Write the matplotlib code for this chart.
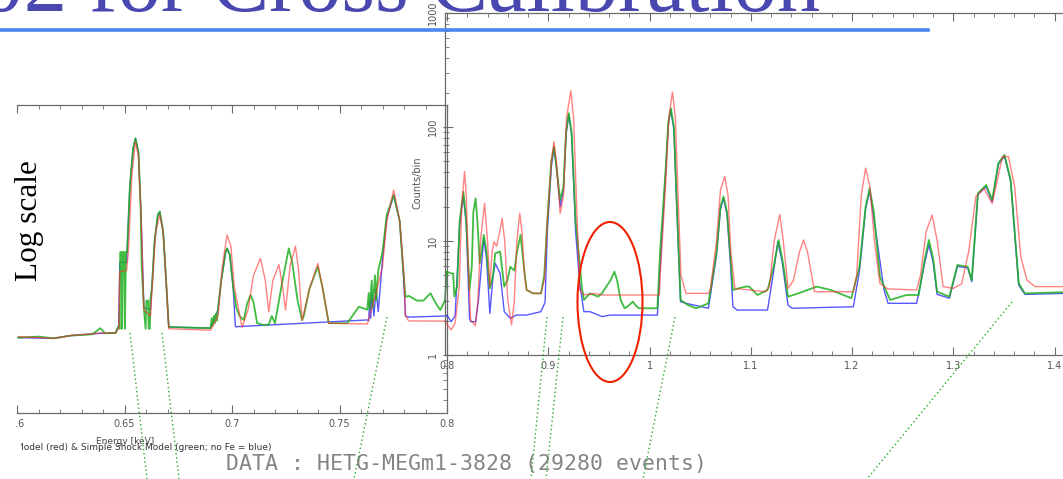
import matplotlib
matplotlib.use('Agg')
import matplotlib.pyplot as plt
from matplotlib.patches import Ellipse, Rectangle
from matplotlib.lines import Line2D
from matplotlib.ticker import MultipleLocator, LogLocator, NullFormatter

# ---- spectra (energy [keV], counts/bin) ----
# left panel 0.6 - 0.8 keV
left_e_green = [0.6006, 0.610, 0.617, 0.625, 0.635, 0.6388, 0.641, 0.6458, 0.6473,
                0.6478, 0.6480, 0.6487, 0.6489, 0.6493, 0.6500, 0.6502, 0.6507, 0.6512,
                0.6525, 0.654, 0.6551, 0.6565, 0.6575, 0.658, 0.659,
                0.6598, 0.6602, 0.6610, 0.6612, 0.6618, 0.6620, 0.6628,
                0.664, 0.6655, 0.6664, 0.668, 0.6695, 0.6706, 0.680, 0.690,
                0.6905, 0.691, 0.6915, 0.692, 0.6925, 0.693, 0.6935, 0.695, 0.697,
                0.6977, 0.699, 0.7005, 0.702, 0.7035, 0.7055, 0.707, 0.7086, 0.710,
                0.7117, 0.7148, 0.7171, 0.7185, 0.7200, 0.7230, 0.7264, 0.728, 0.7305,
                0.7326, 0.7334, 0.736, 0.7399, 0.742, 0.745, 0.7536, 0.7590, 0.7629,
                0.7636, 0.764, 0.765, 0.7655, 0.7665, 0.767, 0.768, 0.770, 0.772,
                0.7752, 0.778, 0.7795, 0.7807, 0.7822, 0.786, 0.789, 0.7923, 0.795,
                0.7969, 0.799, 0.800]
left_c_green = [1.42, 1.45, 1.40, 1.48, 1.52, 1.72, 1.55, 1.56, 1.8,
                1.7, 8.0, 8.0, 1.7, 8.0, 8.0, 1.7, 8.0, 8.0,
                30, 65, 79.5, 60, 20, 6, 2.6,
                1.7, 3.0, 3.0, 1.7, 1.7, 3.0, 4.0,
                10, 17, 18.1, 12, 4, 1.76, 1.74, 1.72,
                2.1, 1.8, 2.2, 1.9, 2.3, 2.0, 2.6, 4.5, 8.0,
                8.6, 7.5, 4.0, 2.6, 2.2, 2.03, 2.8, 3.36, 2.9,
                1.9, 1.83, 1.85, 2.2, 1.9, 4.0, 8.6, 6.5, 3.0,
                2.03, 2.2, 3.8, 5.95, 4.0, 1.9, 1.9, 2.65, 2.5,
                3.5, 2.5, 4.5, 2.6, 5.0, 3.0, 5.5, 8.0, 17,
                25.3, 15, 6, 3.24, 3.3, 3.0, 3.0, 3.48, 2.8,
                2.48, 3.0, 5.38]

left_e_red = [0.6006, 0.617, 0.625, 0.639, 0.6458, 0.6473, 0.6478, 0.651, 0.6518,
              0.6535, 0.6551, 0.6565, 0.6578, 0.659, 0.6621, 0.6632, 0.6645, 0.6664,
              0.668, 0.6695, 0.6706, 0.690, 0.6935, 0.6955, 0.6977, 0.6995, 0.701,
              0.7047, 0.7075, 0.710, 0.7132, 0.7155, 0.7171, 0.719, 0.7218, 0.7235,
              0.7249, 0.727, 0.7295, 0.731, 0.7326, 0.736, 0.7399, 0.742, 0.745,
              0.763, 0.7645, 0.767, 0.770, 0.772, 0.7752, 0.778, 0.780, 0.7807,
              0.7822, 0.800]
left_c_red = [1.45, 1.40, 1.48, 1.56, 1.56, 1.7, 5.4, 5.5, 8,
              40, 74, 55, 15, 2.5, 2.2, 5, 12, 17,
              12, 4, 1.7, 1.65, 2.2, 6, 11.3, 9, 4,
              1.75, 2.5, 5, 7.05, 4.5, 2.4, 4.5, 6.2, 4,
              2.48, 6, 9.0, 5.5, 2.0, 3.8, 6.35, 4, 1.9,
              1.87, 2.4, 3.5, 6, 15, 28, 15, 5, 2.2,
              1.99, 1.98]

left_e_blue = [0.6006, 0.617, 0.625, 0.639, 0.6458, 0.6473, 0.6478, 0.651,
               0.6525, 0.654, 0.6551, 0.6565, 0.6578, 0.659, 0.6621, 0.664,
               0.6655, 0.6664, 0.668, 0.6695, 0.6706, 0.690, 0.6935, 0.695,
               0.697, 0.6977, 0.699, 0.7005, 0.7016, 0.7629, 0.7636, 0.764,
               0.7645, 0.765, 0.766, 0.767, 0.768, 0.769, 0.770, 0.772, 0.7752,
               0.778, 0.7795, 0.7807, 0.7822, 0.800]
left_c_blue = [1.42, 1.40, 1.48, 1.55, 1.56, 1.8, 6.5, 6.5,
               30, 65, 79.5, 60, 15, 2.6, 2.5, 10,
               17, 18.1, 12, 4, 1.76, 1.72, 2.5, 4.5,
               8.0, 8.6, 7.5, 4.0, 1.77, 2.03, 2.0, 3.0,
               2.1, 3.5, 2.2, 3.8, 2.4, 4.0, 7.0, 16, 25,
               15, 6, 2.2, 2.15, 2.2]

# right panel 0.8 - 1.4 keV
right_e_red = [0.798, 0.804, 0.808, 0.8121, 0.8145, 0.8173, 0.819, 0.821, 0.8234,
               0.826, 0.828, 0.8305, 0.833, 0.8371, 0.840, 0.8423, 0.8445, 0.8464,
               0.849, 0.852, 0.8544, 0.857, 0.860, 0.8637, 0.8665, 0.869, 0.8718,
               0.874, 0.8765, 0.8786, 0.885, 0.8927, 0.896, 0.899, 0.903, 0.9056,
               0.908, 0.9117, 0.915, 0.918, 0.9222, 0.925, 0.928, 0.931, 0.9351,
               0.9452, 0.9532, 1.0097, 1.0105, 1.0157, 1.019, 1.0226, 1.0255, 1.0285,
               1.031, 1.0359, 1.0581, 1.0601, 1.0661, 1.070, 1.0742, 1.0775, 1.0802,
               1.0843, 1.1145, 1.1185, 1.123, 1.1286, 1.132, 1.1367, 1.142, 1.148,
               1.152, 1.156, 1.1629, 1.2012, 1.2045, 1.209, 1.2133, 1.2175, 1.222,
               1.2274, 1.235, 1.2637, 1.2675, 1.273, 1.279, 1.284, 1.2899, 1.300,
               1.3081, 1.315, 1.3222, 1.3302, 1.334, 1.3383, 1.342, 1.3484, 1.3544,
               1.3605, 1.3665, 1.3726, 1.3806, 1.425]
right_c_red = [1.98, 1.66, 1.9, 4, 20, 40.7, 25, 6, 2.03,
               1.9, 1.8, 3, 10, 21.4, 10, 3.98, 8, 9.87,
               9, 12, 15.8, 10, 3, 1.84, 3, 10, 17.5,
               12, 5, 3.72, 3.47, 3.47, 4.5, 15, 50, 74.6,
               50, 17.5, 25, 120, 208, 120, 20, 3.72, 3.36,
               3.47, 3.36, 3.36, 5, 30, 120, 203, 120, 20,
               5, 3.47, 3.47, 3.8, 10, 28, 36.8, 25, 8,
               3.84, 3.59, 4, 10, 17.1, 10, 3.84, 4.5, 8,
               10.2, 8, 3.59, 3.59, 5, 25, 43.6, 30, 10,
               4.25, 3.8, 3.72, 5, 12, 16.9, 10, 3.98, 3.84,
               4.2, 8, 24.5, 29.0, 25, 21.4, 30, 55, 55,
               30, 7.3, 4.54, 3.98, 3.98]

right_e_green = [0.798, 0.800, 0.8035, 0.806, 0.8073, 0.810, 0.8125, 0.8161, 0.819,
                 0.8222, 0.8245, 0.826, 0.8282, 0.830, 0.8323, 0.834, 0.8363, 0.839,
                 0.8423, 0.8455, 0.8476, 0.8524, 0.8565, 0.8595, 0.8625, 0.8665, 0.869,
                 0.8726, 0.875, 0.8786, 0.885, 0.8927, 0.896, 0.899, 0.903, 0.9056,
                 0.908, 0.9117, 0.915, 0.9175, 0.9202, 0.923, 0.927, 0.9310, 0.9330,
                 0.9351, 0.9411, 0.9452, 0.9492, 0.9532, 0.9573, 0.9613, 0.9653, 0.968,
                 0.9714, 0.9754, 0.979, 0.9835, 0.9865, 0.9895, 1.0077, 1.0105, 1.0157,
                 1.0185, 1.0210, 1.024, 1.027, 1.0306, 1.0379, 1.0460, 1.0581, 1.0661,
                 1.070, 1.0730, 1.0765, 1.080, 1.0823, 1.0944, 1.0984, 1.1065, 1.1165,
                 1.1226, 1.1274, 1.131, 1.1367, 1.1468, 1.1649, 1.1790, 1.1992, 1.2073,
                 1.2133, 1.2173, 1.2214, 1.2274, 1.2375, 1.2536, 1.2657, 1.2718, 1.2758,
                 1.280, 1.2839, 1.2960, 1.3040, 1.3141, 1.3181, 1.3242, 1.3323, 1.3383,
                 1.3444, 1.3504, 1.3565, 1.3645, 1.3706, 1.425]
right_c_green = [4.5, 5.4, 5.2, 5.2, 3.25, 4, 15, 27.1, 15,
                 3.72, 6, 18, 23.7, 15, 6.37, 8, 11.3, 8,
                 3.84, 5, 7.8, 8.07, 3.98, 4.5, 5.95, 5.5, 8,
                 11.3, 7, 3.72, 3.47, 3.47, 5, 15, 50, 67.4,
                 45, 22.9, 30, 90, 132, 90, 15, 6.37, 4,
                 3.04, 3.47, 3.36, 3.25, 3.5, 3.98, 4.5, 5.38, 4.5,
                 3.04, 2.57, 2.7, 2.94, 2.7, 2.57, 2.57, 8.34, 40,
                 110, 146, 100, 20, 3.04, 2.74, 2.57, 2.84, 8,
                 20, 24.5, 18, 7, 3.72, 3.98, 3.98, 3.36, 3.72,
                 6, 10.2, 7, 3.25, 3.47, 3.98, 3.72, 3.15, 6,
                 20, 29, 18, 4.86, 3.04, 3.36, 3.36, 7, 10.2,
                 7, 3.59, 3.25, 6.16, 5.95, 4.54, 26.2, 31, 22.9,
                 48.3, 56.9, 34.4, 4.25, 3.47, 3.59]

right_e_blue = [0.798, 0.800, 0.804, 0.808, 0.8125, 0.8161, 0.819, 0.8222, 0.8234,
                0.8282, 0.831, 0.8363, 0.839, 0.8423, 0.8455, 0.8476, 0.8524, 0.8565,
                0.8625, 0.8685, 0.8786, 0.8927, 0.8968, 0.899, 0.903, 0.9056, 0.908,
                0.9117, 0.915, 0.9175, 0.9202, 0.923, 0.927, 0.9310, 0.9351, 0.9411,
                0.9532, 0.9613, 1.0077, 1.0105, 1.0157, 1.0185, 1.0210, 1.024, 1.027,
                1.0306, 1.0359, 1.0581, 1.0661, 1.070, 1.0730, 1.0765, 1.080, 1.0823,
                1.0863, 1.1165, 1.1226, 1.1266, 1.131, 1.1367, 1.1407, 1.2012, 1.2073,
                1.2133, 1.2173, 1.2214, 1.2315, 1.2355, 1.2637, 1.2718, 1.2758, 1.280,
                1.2839, 1.2960, 1.3040, 1.3141, 1.3181, 1.3242, 1.3323, 1.3383, 1.3444,
                1.3504, 1.3565, 1.3645, 1.3706, 1.425]
right_c_blue = [2.2, 2.24, 1.96, 2.2, 14, 25, 14, 2.1, 1.96,
                1.96, 3, 10.5, 7, 2.32, 5, 6.37, 5.2, 2.4,
                2.1, 2.24, 2.24, 2.4, 2.9, 12, 45, 65, 45,
                20, 28, 85, 128, 85, 12, 4.25, 2.4, 2.4,
                2.17, 2.24, 2.24, 6, 38, 105, 142, 95, 18,
                2.94, 2.84, 2.57, 7.5, 19, 23.7, 17, 6, 2.65,
                2.48, 2.48, 5.5, 9.87, 6.5, 2.74, 2.57, 2.65, 5.5,
                19, 27.5, 16, 3.72, 2.84, 2.84, 6.5, 9.3, 6.5,
                3.4, 3.15, 6.0, 5.8, 4.4, 25.5, 30, 22, 47,
                55.5, 33.5, 4.1, 3.4, 3.5]

left_ticks = [0.6, 0.65, 0.7, 0.75, 0.8]
left_tick_labels = ['0.6', '0.65', '0.7', '0.75', '0.8']
right_ticks = [0.8, 0.9, 1.0, 1.1, 1.2, 1.3, 1.4]
right_tick_labels = ['0.8', '0.9', '1', '1.1', '1.2', '1.3', '1.4']
count_ticks = [1, 10, 100, 1000]
count_tick_labels = ['1', '10', '100', '1000']

# ---- figure in pixel units ----
W, H = 1063, 479
fig = plt.figure(figsize=(W / 100, H / 100), dpi=100)
plt.rcParams['font.family'] = ['DejaVu Sans']


def box(x0, y0, x1, y1):
    return [x0 / W, 1 - y1 / H, (x1 - x0) / W, (y1 - y0) / H]


def fx(x):
    return x / W


def fy(y):
    return 1 - y / H


axis_col = '#6a6a6a'
lab_col = '#555555'
c_red, c_green, c_blue = '#ff3030', '#1fb01f', '#3a3aff'


def draw(ax, e_b, c_b, e_r, c_r, e_g, c_g):
    ax.plot(e_b, c_b, color=c_blue, lw=1.0, alpha=0.85)
    ax.plot(e_g, c_g, color=c_green, lw=1.3, alpha=0.85)
    ax.plot(e_r, c_r, color=c_red, lw=1.0, alpha=0.6)


# left panel
ax1 = fig.add_axes(box(17, 105, 447, 413))
ax1.set_yscale('log')
ax1.set_xlim(0.6, 0.8)
ax1.set_ylim(10 ** (-58 / 114), 10 ** (250 / 114))
draw(ax1, left_e_blue, left_c_blue, left_e_red, left_c_red, left_e_green, left_c_green)
ax1.set_xticks(left_ticks, left_tick_labels)
ax1.xaxis.set_minor_locator(MultipleLocator(0.01))
ax1.tick_params(axis='x', which='both', direction='in', top=True, bottom=True,
                labelsize=7, labelcolor=lab_col, color=axis_col, pad=4)
ax1.tick_params(axis='x', which='major', length=6)
ax1.tick_params(axis='x', which='minor', length=3)
ax1.spines['left'].set_visible(False)
ax1.yaxis.set_ticks_position('right')
ax1.yaxis.set_minor_locator(LogLocator(subs=range(2, 10)))
ax1.yaxis.set_minor_formatter(NullFormatter())
ax1.tick_params(axis='y', which='both', direction='in', labelright=False,
                color=axis_col, length=3)
for s in ax1.spines.values():
    s.set_color(axis_col)
    s.set_linewidth(0.9)

# right panel
ax2 = fig.add_axes(box(445, 13, 1080, 355))
ax2.patch.set_alpha(0)
ax2.set_yscale('log')
ax2.set_xlim(0.798, 1.425)
ax2.set_ylim(1, 1000)
draw(ax2, right_e_blue, right_c_blue, right_e_red, right_c_red, right_e_green, right_c_green)
ax2.set_xticks(right_ticks, right_tick_labels)
ax2.xaxis.set_minor_locator(MultipleLocator(0.02))
ax2.tick_params(axis='x', which='both', direction='in', top=True, bottom=True,
                labelsize=7, labelcolor=lab_col, color=axis_col, pad=4)
ax2.tick_params(axis='x', which='major', length=6)
ax2.tick_params(axis='x', which='minor', length=3)
ax2.set_yticks(count_ticks, count_tick_labels, rotation=90, va='center')
ax2.yaxis.set_minor_locator(LogLocator(subs=range(2, 10)))
ax2.yaxis.set_minor_formatter(NullFormatter())
ax2.tick_params(axis='y', which='both', direction='in', labelsize=7,
                labelcolor=lab_col, color=axis_col, pad=5)
ax2.tick_params(axis='y', which='major', length=6)
ax2.tick_params(axis='y', which='minor', length=3)
ax2.spines['right'].set_visible(False)
for s in ax2.spines.values():
    s.set_color(axis_col)
    s.set_linewidth(0.9)

fig.text(fx(418), fy(183), 'Counts/bin', rotation=90, ha='center', va='center',
         fontsize=7, color=lab_col)
fig.text(fx(125), fy(441), 'Energy [keV]', ha='center', va='center',
         fontsize=6.5, color='#444444')
fig.text(fx(272), fy(448), 'Model (red) & Simple Shock Model (green; no Fe = blue)',
         ha='right', va='center', fontsize=6.5, color='#333333')

# slide decorations
fig.text(fx(820), fy(11), 'E0102 for Cross Calibration', ha='right', va='baseline',
         fontsize=62.5, family='Liberation Serif', color='#4848b0')
fig.add_artist(Line2D([0, fx(928)], [fy(30), fy(30)], color='#4a86f0', lw=2.6))
fig.text(fx(30), fy(221), 'Log scale', rotation=90, ha='center', va='center',
         fontsize=22.5, family='Liberation Serif', color='black')
fig.text(fx(466), fy(464), 'DATA : HETG-MEGm1-3828 (29280 events)', ha='center',
         va='center', fontsize=15.5, family='DejaVu Sans Mono', color='#858585')

guides = [((130, 333), (147, 479)), ((162, 333), (179, 479)), ((387, 317), (354, 479)),
          ((547, 317), (531, 479)), ((563, 317), (546, 479)), ((675, 317), (643, 479)),
          ((1012, 302), (867, 479))]
for (xa, ya), (xb, yb) in guides:
    fig.add_artist(Line2D([fx(xa), fx(xb)], [fy(ya), fy(yb)], color='#22aa22',
                          lw=1.0, linestyle=(0, (1, 2)), zorder=5))

fig.add_artist(Ellipse((fx(610), fy(302)), 65 / W, 160 / H, fill=False,
                       edgecolor='#ee2200', lw=1.5, zorder=6))
# the slide crops the left edge of the pasted plot
fig.add_artist(Rectangle((0, fy(432)), fx(15), fy(330) - fy(432), color='white', zorder=10))
fig.add_artist(Rectangle((0, 0), fx(20), fy(432), color='white', zorder=10))

fig.savefig('out.png', dpi=100)
